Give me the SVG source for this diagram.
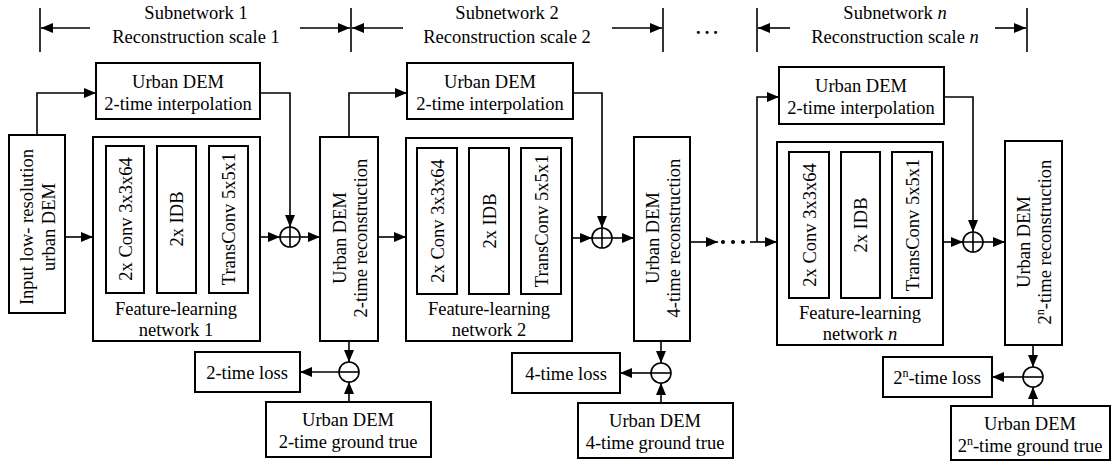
<svg xmlns="http://www.w3.org/2000/svg" width="1117" height="463" viewBox="0 0 1117 463">
  <style>
    .box { fill: #fff; stroke: #000; stroke-width: 2; }
    .ln { fill: none; stroke: #000; stroke-width: 1.6; }
    .arr { fill: none; stroke: #000; stroke-width: 1.6; marker-end: url(#ah); }
    .t { font-family: "Liberation Serif", "Times New Roman", serif; font-size: 18.5px; fill: #000; }
    .c { text-anchor: middle; }
    .op { fill: #fff; stroke: #000; stroke-width: 1.6; }
    .sup { font-size: 12px; baseline-shift: super; }
  </style>
  <defs>
    <marker id="ah" viewBox="0 0 12 10" refX="12" refY="5" markerWidth="12" markerHeight="10" markerUnits="userSpaceOnUse" orient="auto">
      <path d="M0,0 L12,5 L0,10 Z" fill="#000"/>
    </marker>
  </defs>

  <!-- header: scale brackets -->
  <g id="header">
    <line class="ln" x1="40" y1="8" x2="40" y2="52"/>
    <line class="ln" x1="351" y1="8" x2="351" y2="52"/>
    <line class="ln" x1="663" y1="8" x2="663" y2="52"/>
    <line class="ln" x1="757" y1="8" x2="757" y2="52"/>
    <line class="ln" x1="1027" y1="8" x2="1027" y2="52"/>
    <line class="arr" x1="90" y1="28" x2="41" y2="28"/>
    <line class="arr" x1="300" y1="28" x2="350" y2="28"/>
    <line class="arr" x1="403" y1="28" x2="352" y2="28"/>
    <line class="arr" x1="612" y1="28" x2="662" y2="28"/>
    <line class="arr" x1="790" y1="28" x2="758" y2="28"/>
    <line class="arr" x1="995" y1="28" x2="1026" y2="28"/>
    <text class="t c" x="196" y="19">Subnetwork 1</text>
    <text class="t c" x="196" y="43">Reconstruction scale 1</text>
    <text class="t c" x="507" y="19">Subnetwork 2</text>
    <text class="t c" x="507" y="43">Reconstruction scale 2</text>
    <text class="t c" x="895" y="19">Subnetwork <tspan font-style="italic">n</tspan></text>
    <text class="t c" x="895" y="43">Reconstruction scale <tspan font-style="italic">n</tspan></text>
    <text class="t" x="696" y="34" font-weight="bold" font-size="24" letter-spacing="4">...</text>
  </g>

  <!-- connectors -->
  <g id="connectors">
    <!-- subnetwork 1 -->
    <polyline class="arr" points="37,135 37,93 96,93"/>
    <polyline class="arr" points="260,93 290,93 290,227"/>
    <line class="arr" x1="65" y1="237" x2="93" y2="237"/>
    <line class="arr" x1="260" y1="237" x2="280" y2="237"/>
    <line class="arr" x1="300" y1="237" x2="320" y2="237"/>
    <!-- subnetwork 2 -->
    <polyline class="arr" points="349,137 349,93 407,93"/>
    <polyline class="arr" points="573,93 602,93 602,228"/>
    <line class="arr" x1="378" y1="237" x2="406" y2="237"/>
    <line class="arr" x1="572" y1="238" x2="592" y2="238"/>
    <line class="arr" x1="612" y1="238" x2="634" y2="238"/>
    <!-- subnetwork n -->
    <line class="arr" x1="690" y1="242" x2="718" y2="242"/>
    <circle cx="723" cy="242" r="2"/>
    <circle cx="733" cy="242" r="2"/>
    <circle cx="743" cy="242" r="2"/>
    <line class="arr" x1="750" y1="242" x2="777" y2="242"/>
    <polyline class="arr" points="757,242 757,97 779,97"/>
    <polyline class="arr" points="944,97 973,97 973,232"/>
    <line class="arr" x1="943" y1="242" x2="963" y2="242"/>
    <line class="arr" x1="983" y1="242" x2="1005" y2="242"/>
    <!-- losses -->
    <line class="arr" x1="349" y1="341" x2="349" y2="362"/>
    <line class="arr" x1="339" y1="372" x2="300" y2="372"/>
    <line class="arr" x1="349" y1="402" x2="349" y2="382"/>
    <line class="arr" x1="661" y1="341" x2="661" y2="363"/>
    <line class="arr" x1="651" y1="373" x2="620" y2="373"/>
    <line class="arr" x1="661" y1="403" x2="661" y2="383"/>
    <line class="arr" x1="1033" y1="345" x2="1033" y2="367"/>
    <line class="arr" x1="1023" y1="377" x2="992" y2="377"/>
    <line class="arr" x1="1033" y1="406" x2="1033" y2="387"/>
  </g>

  <!-- operators -->
  <g id="sum1"><circle class="op" cx="290" cy="237" r="10"/><path class="ln" d="M280,237 H300 M290,227 V247"/></g>
  <g id="sum2"><circle class="op" cx="602" cy="238" r="10"/><path class="ln" d="M592,238 H612 M602,228 V248"/></g>
  <g id="sum3"><circle class="op" cx="973" cy="242" r="10"/><path class="ln" d="M963,242 H983 M973,232 V252"/></g>
  <g id="diff1"><circle class="op" cx="349" cy="372" r="10"/><path class="ln" d="M339,372 H359"/></g>
  <g id="diff2"><circle class="op" cx="661" cy="373" r="10"/><path class="ln" d="M651,373 H671"/></g>
  <g id="diff3"><circle class="op" cx="1033" cy="377" r="10"/><path class="ln" d="M1023,377 H1043"/></g>

  <!-- input -->
  <g id="input">
    <rect class="box" x="9" y="135" width="56" height="178"/>
    <text class="t c" transform="translate(37,227) rotate(-90)"><tspan x="0" y="-4">Input low- resolution</tspan><tspan x="0" y="18">urban DEM</tspan></text>
  </g>

  <!-- subnetwork 1 -->
  <g id="interp1">
    <rect class="box" x="96" y="63" width="164" height="56"/>
    <text class="t c" x="178" y="88">Urban DEM</text>
    <text class="t c" x="178" y="110">2-time interpolation</text>
  </g>
  <g id="feature1">
    <rect class="box" x="93" y="137" width="167" height="204"/>
    <rect class="box" x="106" y="146" width="38" height="147"/>
    <rect class="box" x="157" y="146" width="39" height="147"/>
    <rect class="box" x="209" y="146" width="39" height="147"/>
    <text class="t c" transform="translate(125,219) rotate(-90)" y="7">2x Conv 3x3x64</text>
    <text class="t c" transform="translate(176,219) rotate(-90)" y="7">2x IDB</text>
    <text class="t c" transform="translate(228,219) rotate(-90)" y="7">TransConv 5x5x1</text>
    <text class="t c" x="176" y="315">Feature-learning</text>
    <text class="t c" x="176" y="336">network 1</text>
  </g>
  <g id="recon1">
    <rect class="box" x="320" y="137" width="58" height="204"/>
    <text class="t c" transform="translate(349,238) rotate(-90)"><tspan x="0" y="-3">Urban DEM</tspan><tspan x="0" y="18">2-time reconstruction</tspan></text>
  </g>
  <g id="loss1">
    <rect class="box" x="195" y="352" width="105" height="40"/>
    <text class="t c" x="247" y="379">2-time loss</text>
  </g>
  <g id="truth1">
    <rect class="box" x="266" y="402" width="165" height="55"/>
    <text class="t c" x="348" y="426">Urban DEM</text>
    <text class="t c" x="348" y="448">2-time ground true</text>
  </g>

  <!-- subnetwork 2 -->
  <g id="interp2">
    <rect class="box" x="407" y="63" width="166" height="56"/>
    <text class="t c" x="490" y="88">Urban DEM</text>
    <text class="t c" x="490" y="110">2-time interpolation</text>
  </g>
  <g id="feature2">
    <rect class="box" x="406" y="138" width="166" height="203"/>
    <rect class="box" x="417" y="148" width="40" height="146"/>
    <rect class="box" x="469" y="148" width="40" height="146"/>
    <rect class="box" x="521" y="148" width="40" height="146"/>
    <text class="t c" transform="translate(437,221) rotate(-90)" y="7">2x Conv 3x3x64</text>
    <text class="t c" transform="translate(489,221) rotate(-90)" y="7">2x IDB</text>
    <text class="t c" transform="translate(541,221) rotate(-90)" y="7">TransConv 5x5x1</text>
    <text class="t c" x="489" y="315">Feature-learning</text>
    <text class="t c" x="489" y="336">network 2</text>
  </g>
  <g id="recon2">
    <rect class="box" x="634" y="137" width="56" height="204"/>
    <text class="t c" transform="translate(662,238) rotate(-90)"><tspan x="0" y="-3">Urban DEM</tspan><tspan x="0" y="18">4-time reconstruction</tspan></text>
  </g>
  <g id="loss2">
    <rect class="box" x="512" y="353" width="108" height="40"/>
    <text class="t c" x="566" y="380">4-time loss</text>
  </g>
  <g id="truth2">
    <rect class="box" x="578" y="403" width="155" height="55"/>
    <text class="t c" x="655" y="427">Urban DEM</text>
    <text class="t c" x="655" y="449">4-time ground true</text>
  </g>

  <!-- subnetwork n -->
  <g id="interp3">
    <rect class="box" x="779" y="67" width="165" height="57"/>
    <text class="t c" x="861" y="92">Urban DEM</text>
    <text class="t c" x="861" y="114">2-time interpolation</text>
  </g>
  <g id="feature3">
    <rect class="box" x="777" y="142" width="166" height="203"/>
    <rect class="box" x="789" y="152" width="40" height="146"/>
    <rect class="box" x="841" y="152" width="39" height="146"/>
    <rect class="box" x="892" y="152" width="40" height="146"/>
    <text class="t c" transform="translate(809,225) rotate(-90)" y="7">2x Conv 3x3x64</text>
    <text class="t c" transform="translate(860,225) rotate(-90)" y="7">2x IDB</text>
    <text class="t c" transform="translate(912,225) rotate(-90)" y="7">TransConv 5x5x1</text>
    <text class="t c" x="860" y="319">Feature-learning</text>
    <text class="t c" x="860" y="340">network <tspan font-style="italic">n</tspan></text>
  </g>
  <g id="recon3">
    <rect class="box" x="1005" y="141" width="57" height="204"/>
    <text class="t c" transform="translate(1033,242) rotate(-90)"><tspan x="0" y="-3">Urban DEM</tspan><tspan x="0" y="18">2<tspan class="sup">n</tspan>-time reconstruction</tspan></text>
  </g>
  <g id="loss3">
    <rect class="box" x="883" y="357" width="109" height="40"/>
    <text class="t c" x="937" y="384">2<tspan class="sup">n</tspan>-time loss</text>
  </g>
  <g id="truth3">
    <rect class="box" x="951" y="406" width="159" height="54"/>
    <text class="t c" x="1030" y="430">Urban DEM</text>
    <text class="t c" x="1030" y="452">2<tspan class="sup">n</tspan>-time ground true</text>
  </g>
</svg>
